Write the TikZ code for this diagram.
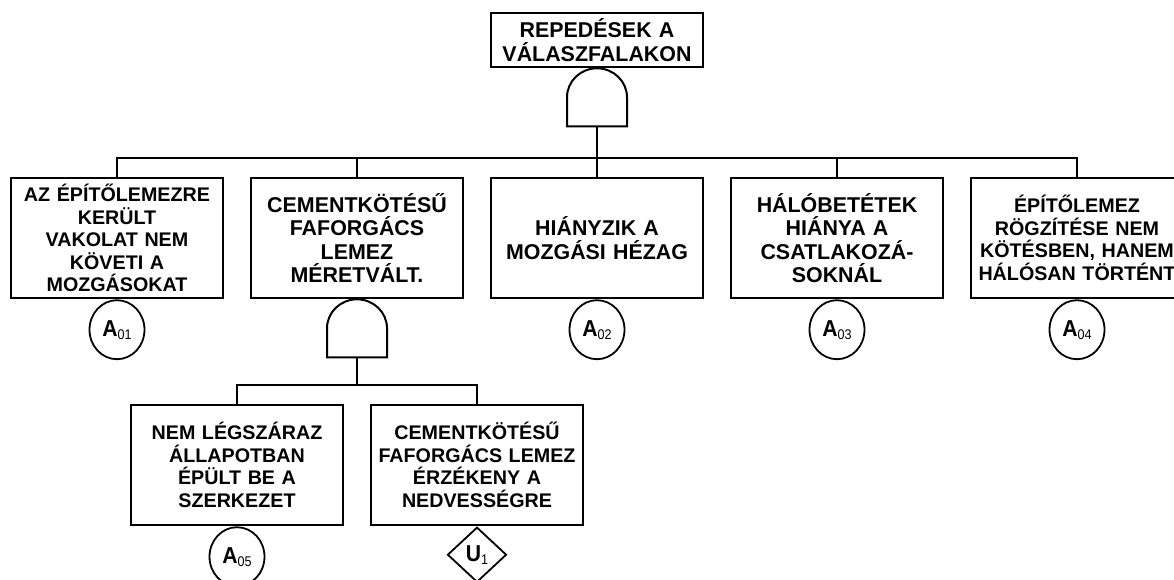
\documentclass[tikz,border=0pt]{standalone}
\usepackage{fontspec}
\setmainfont{Liberation Sans}
\usetikzlibrary{positioning,shapes.geometric}

\newcommand{\evt}[2]{\scalebox{0.92}[1]{\bfseries #1}\raisebox{-0.25ex}{\fontsize{14}{14}\selectfont\mdseries\scalebox{0.9}[1]{#2}}}

\begin{document}
\begin{tikzpicture}[x=1pt, y=-1pt,
  evenement/.style={draw, line width=2.6pt, minimum width=212pt, minimum height=120pt,
    text width=208pt, inner sep=1pt, align=center,
    font=\bfseries\fontsize{21.4}{23.3}\selectfont},
  petit/.style={font=\bfseries\fontsize{19.7}{22.6}\selectfont},
  base/.style={draw, ellipse, line width=1.8pt, minimum width=55pt, minimum height=59pt,
    inner sep=0pt, font=\fontsize{23}{23}\selectfont},
  nondev/.style={draw, diamond, line width=1.8pt, minimum width=59pt, minimum height=55pt,
    inner sep=0pt, font=\fontsize{23}{23}\selectfont},
  lien/.style={line width=2.6pt},
  porte/.pic={
    \draw[line width=2pt] (-30,58) -- (-30,29)
      arc[start angle=180, end angle=360, x radius=30, y radius=29] -- (30,58) -- cycle;
    \coordinate (-sortie) at (0,58);
  }]

  \useasboundingbox (0,0) rectangle (1174,579);

  % Evenement sommet
  \node[evenement, minimum height=54pt] (sommet) at (597,40) {REPEDÉSEK A\\VÁLASZFALAKON};
  \pic (p1) at (sommet.south) {porte};

  % Premier niveau
  \node[evenement, petit] (c1) at (117,238) {AZ ÉPÍTŐLEMEZRE\\KERÜLT\\VAKOLAT NEM\\KÖVETI A\\MOZGÁSOKAT};
  \node[evenement] (c2) at (357,238) {CEMENTKÖTÉSŰ\\FAFORGÁCS\\LEMEZ\\MÉRETVÁLT.};
  \node[evenement] (c3) at (597,238) {HIÁNYZIK A\\MOZGÁSI HÉZAG};
  \node[evenement] (c4) at (837,238) {HÁLÓBETÉTEK\\HIÁNYA A\\CSATLAKOZÁ-\\SOKNÁL};
  \node[evenement, petit] (c5) at (1077,238) {ÉPÍTŐLEMEZ\\RÖGZÍTÉSE NEM\\KÖTÉSBEN, HANEM\\HÁLÓSAN TÖRTÉNT};

  % Evenements de base
  \node[base, below=0pt of c1] (a1) {\evt{A}{01}};
  \node[base, below=0pt of c3] (a2) {\evt{A}{02}};
  \node[base, below=0pt of c4] (a3) {\evt{A}{03}};
  \node[base, below=0pt of c5] (a4) {\evt{A}{04}};

  % Liaisons
  \coordinate (barre1) at (0,158);
  \draw[lien] (p1-sortie) -- (p1-sortie |- barre1);
  \draw[lien] (c1.north) -- (c1.north |- barre1) -- (c5.north |- barre1) -- (c5.north);
  \foreach \i in {2,3,4}
    \draw[lien] (c\i.north) -- (c\i.north |- barre1);

  % Second niveau
  \pic (p2) at (c2.south) {porte};
  \node[evenement, petit] (c6) at (237,465) {NEM LÉGSZÁRAZ\\ÁLLAPOTBAN\\ÉPÜLT BE A\\SZERKEZET};
  \node[evenement, petit] (c7) at (477,465) {CEMENTKÖTÉSŰ\\FAFORGÁCS LEMEZ\\ÉRZÉKENY A\\NEDVESSÉGRE};
  \node[base, below=0pt of c6] (a5) {\evt{A}{05}};
  \node[nondev, below=0pt of c7] (u1) {\evt{U}{1}};

  \coordinate (barre2) at (0,385);
  \draw[lien] (p2-sortie) -- (p2-sortie |- barre2);
  \draw[lien] (c6.north) -- (c6.north |- barre2) -- (c7.north |- barre2) -- (c7.north);

\end{tikzpicture}
\end{document}
